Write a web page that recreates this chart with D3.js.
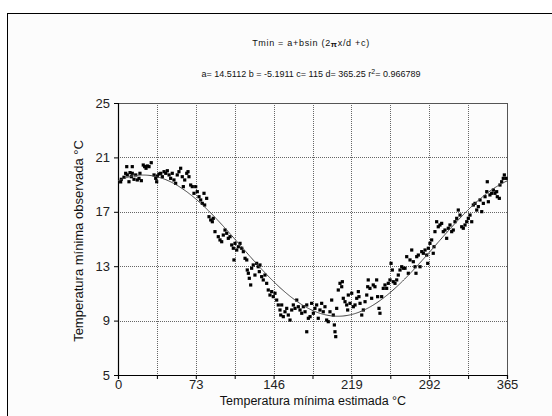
<!DOCTYPE html>
<html>
<head>
<meta charset="utf-8">
<script src="https://cdn.jsdelivr.net/npm/d3@7/dist/d3.min.js"></script>
<style>
  html, body { margin: 0; padding: 0; background: #ffffff; }
  svg { display: block; font-family: Arial, "Liberation Sans", sans-serif; }
</style>
</head>
<body>
<svg id="chart" width="552" height="416"></svg>
<script>
// Day of year for each observation
const days = [
  2.5, 3.1, 5.6, 7.2, 8.2, 8.7, 10.3, 11.3, 12.5, 13.4, 13.4, 15.0, 16.6, 18.1, 19.7, 20.6,
  21.9, 23.7, 25.0, 26.3, 27.5, 29.1, 31.2, 33.8, 35.4, 36.3, 36.9, 38.5, 40.1, 41.6, 43.2,
  44.8, 46.3, 47.9, 49.4, 50.9, 52.5, 54.1, 55.6, 57.2, 58.8, 60.3, 61.3, 62.6, 64.5, 65.7,
  66.6, 68.2, 69.7, 71.3, 72.9, 74.4, 76.0, 77.6, 79.1, 80.7, 81.3, 83.2, 85.4, 87.0, 88.5,
  89.4,
  91.0, 94.1, 95.7, 97.3, 98.8, 100.4, 102.0, 103.5, 105.1, 106.7, 108.2, 108.8, 109.8,
  111.4, 112.9, 114.5, 116.1, 117.6, 119.2, 120.8, 121.3, 122.3, 123.2, 124.5, 125.4, 126.9,
  128.5, 130.1, 131.6, 132.6, 133.2, 134.8, 136.3, 137.9, 139.5, 141.0, 142.6, 144.2, 145.7,
  147.3, 148.9, 150.4, 152.0, 152.7, 153.6, 155.1, 156.7, 158.3, 159.8, 161.4, 163.0, 164.5,
  166.1, 167.7, 169.2, 170.8, 172.4, 173.9, 175.5, 177.1, 178.6, 177.1,
  180.2, 181.7, 183.3, 184.8, 186.4, 187.9, 189.5, 191.1, 192.6, 194.2, 195.8, 197.3, 198.9,
  200.5, 202.0, 203.0, 203.6, 204.3, 205.2, 206.7, 208.3, 209.9, 210.5, 211.4, 213.0, 214.6,
  215.5, 216.1, 217.7, 219.3, 220.8, 222.4, 224.0, 225.5, 226.1, 227.1, 228.7, 230.2, 231.8,
  233.4, 234.3, 234.8, 236.4, 238.0, 239.5, 241.1, 242.7, 243.6, 244.9, 245.8, 247.4, 248.9,
  250.5, 252.1, 253.6, 255.2, 256.2, 257.4, 258.3, 259.9, 261.5, 263.0, 264.6, 266.2, 267.7,
  269.3, 270.9, 272.4, 274.0, 275.6, 277.1, 278.7, 279.6, 280.3, 281.8, 283.4, 285.0, 286.5,
  288.1, 289.7, 290.6, 291.2, 292.7, 294.3, 295.8, 296.5, 297.4, 299.0, 300.5, 302.1, 303.7,
  305.2, 306.8, 308.4, 309.9, 311.5, 313.1, 314.6, 316.2, 317.8, 319.3, 320.9, 322.5, 324.0,
  325.6, 327.2, 328.7, 330.3, 331.9, 333.4, 335.0, 336.6, 338.1, 339.7, 341.3, 342.8, 344.4,
  346.0, 346.5, 347.5, 349.0, 350.6, 352.2, 353.7, 355.3, 355.9, 357.8, 358.4, 360.0, 361.5,
  362.5, 364.1
];

// Observed minimum temperature (°C)
const observed = [
  19.2, 19.39, 19.54, 19.83, 20.32, 19.71, 19.21, 19.88, 19.58, 20.32, 19.83, 19.39, 19.71, 19.34, 19.46, 19.83,
  19.29, 20.44, 20.32, 20.2, 20.37, 20.32, 20.61, 19.71, 19.46, 19.21, 19.63, 19.78, 19.83, 19.58, 19.95,
  19.83, 20.02, 19.71, 19.46, 19.83, 19.34, 19.09, 19.71, 19.95, 20.2, 19.58, 18.85, 19.34, 19.83, 19.95,
  19.58, 18.97, 18.85, 18.36, 18.85, 18.48, 18.11, 17.87, 17.62, 18.36, 17.5, 17.99, 16.64, 16.4, 16.27,
  16.52,
  15.54, 15.17, 14.93, 14.8, 15.29, 15.66, 15.42, 15.05, 15.17, 14.56, 14.32, 13.46, 14.68,
  14.19, 14.43, 14.68, 14.32, 14.07, 13.58, 13.46, 12.72, 12.48, 12.11, 11.62, 12.85, 13.09,
  12.35, 13.21, 12.96, 12.6, 13.09, 12.23, 11.99, 12.35, 11.74, 11.25, 10.88, 11.13, 10.76,
  11.01, 10.51, 10.15, 9.78, 9.41, 10.15, 9.29, 9.65, 9.9, 9.41, 9.04, 9.78, 10.15,
  9.9, 10.51, 10.02, 9.78, 9.54, 10.02, 9.65, 10.15, 9.17, 8.18,
  9.29, 10.27, 9.54, 9.9, 10.15, 9.17, 9.78, 10.27, 9.65, 10.02, 9.04, 8.92, 9.65,
  10.51, 9.41, 8.68, 8.18, 7.82, 9.9, 11.25, 11.74, 11.49, 11.86, 10.64, 10.39, 10.15,
  9.78, 10.88, 10.27, 11.01, 10.02, 10.15, 10.64, 11.13, 10.76, 10.27, 9.41, 9.78, 10.39,
  10.88, 11.49, 11.99, 11.37, 10.64, 11.62, 11.49, 11.99, 10.76, 9.9, 9.54, 10.76, 11.37,
  11.62, 11.37, 11.74, 11.99, 13.21, 12.72, 11.86, 11.74, 11.99, 12.35, 12.72, 12.96, 12.85,
  12.85, 13.7, 12.48, 13.46, 14.19, 13.33, 12.96, 12.48, 13.7, 13.82, 12.96, 14.07, 13.95,
  14.19, 13.82, 13.21, 14.32, 14.68, 14.93, 13.95, 14.43, 15.54, 16.27, 15.9, 16.03, 16.15,
  15.54, 15.66, 15.05, 15.79, 16.03, 15.54, 15.66, 16.27, 16.52, 17.13, 16.76, 15.9, 15.79,
  16.03, 16.27, 16.52, 16.76, 16.27, 17.5, 17.62, 17.13, 17.38, 17.87, 17.01, 17.62, 18.11,
  18.48, 19.21, 17.74, 18.24, 18.36, 18.6, 18.36, 18.48, 18.11, 17.99, 18.97, 19.21, 19.46,
  19.71, 19.46
];

// Axis ticks
const xTickValues = [0, 36.5, 73, 109.5, 146, 182.5, 219, 255.5, 292, 328.5, 365];
const xTickLabels = [0, 73, 146, 219, 292, 365];
const yTickLabels = [5, 9, 13, 17, 21, 25];

// Fitted sinusoid parameters
const fitA = 14.5112;
const fitB = -5.1911;
const fitC = 115;
const fitD = 365.25;
const fitR2 = 0.966789;

const svg = d3.select("#chart");

// Outer frame
svg.append("rect")
  .attr("x", 7.5).attr("y", 13.5)
  .attr("width", 560).attr("height", 420)
  .attr("fill", "#fcfcfc")
  .attr("stroke", "#000").attr("stroke-width", 1);

const x = d3.scaleLinear().domain([0, 365]).range([118, 507]);
const y = d3.scaleLinear().domain([5, 25]).range([375, 103]);

// Gridlines (dotted)
const grid = svg.append("g").attr("stroke", "#666").attr("stroke-width", 1)
  .attr("stroke-dasharray", "1,1").attr("shape-rendering", "crispEdges");
grid.selectAll("line.v").data(xTickValues.slice(1, -1)).join("line")
  .attr("x1", d => Math.round(x(d)) + 0.5).attr("x2", d => Math.round(x(d)) + 0.5)
  .attr("y1", y(25)).attr("y2", y(5));
grid.selectAll("line.h").data(yTickLabels.slice(1, -1)).join("line")
  .attr("x1", x(0)).attr("x2", x(365))
  .attr("y1", d => Math.round(y(d)) + 0.5).attr("y2", d => Math.round(y(d)) + 0.5);

// Plot frame top and right
svg.append("path")
  .attr("d", `M${x(0)},${Math.round(y(25)) + 0.5}H${Math.round(x(365)) + 0.5}V${y(5)}`)
  .attr("fill", "none").attr("stroke", "#555").attr("stroke-width", 1)
  .attr("shape-rendering", "crispEdges");

// Axes
const xAxis = d3.axisBottom(x).tickValues(xTickValues).tickSize(4)
  .tickFormat(d => xTickLabels.includes(d) ? d : "");
const yAxis = d3.axisLeft(y).tickValues(yTickLabels).tickSize(4).tickFormat(d => d);

const gx = svg.append("g").attr("transform", `translate(0,${y(5)})`).call(xAxis);
const gy = svg.append("g").attr("transform", `translate(${x(0)},0)`).call(yAxis);
[gx, gy].forEach(g => {
  g.select(".domain").attr("stroke", "#000").attr("stroke-width", 1.2);
  g.selectAll(".tick line").attr("stroke", "#000");
  g.selectAll(".tick text").attr("fill", "#222")
    .style("font-size", "13px").style("font-family", "Arial, 'Liberation Sans', sans-serif");
});
gx.selectAll(".tick text").attr("y", 5);
gy.selectAll(".tick text").attr("dx", "-1px");

// Observations
const pts = days.map((d, i) => ({ d, t: observed[i] }));
svg.append("g").selectAll("rect").data(pts).join("rect")
  .attr("x", p => x(p.d) - 1.6).attr("y", p => y(p.t) - 1.6)
  .attr("width", 3.2).attr("height", 3.2)
  .attr("fill", "#000");

// Fitted curve
const curveDays = d3.range(0, 366, 1);
const fitted = curveDays.map(dd => ({ d: dd, t: fitA + fitB * Math.sin(2 * Math.PI * (dd - fitC) / fitD) }));
svg.append("path").datum(fitted)
  .attr("fill", "none").attr("stroke", "#444").attr("stroke-width", 1)
  .attr("d", d3.line().x(p => x(p.d)).y(p => y(p.t)));

// Equation and coefficients
const eq = svg.append("text").attr("x", 311).attr("y", 46)
  .attr("text-anchor", "middle").style("font-size", "9px")
  .style("letter-spacing", "0.7px").attr("fill", "#111");
eq.append("tspan").text("Tmin = a+bsin (2");
eq.append("tspan").text("π").style("font-size", "8px").style("font-weight", "bold").attr("dy", 1);
eq.append("tspan").text("x/d +c)").attr("dy", -1);

const coef = svg.append("text").attr("x", 311).attr("y", 77)
  .attr("text-anchor", "middle").style("font-size", "9px").attr("fill", "#111");
coef.append("tspan").text(`a= ${fitA} b = ${fitB}  c= ${fitC}  d= ${fitD}  r`);
coef.append("tspan").text("2").style("font-size", "7px").attr("dy", -3);
coef.append("tspan").text(`= ${fitR2}`).attr("dy", 3);

// Axis titles
svg.append("text").attr("x", 313).attr("y", 405)
  .attr("text-anchor", "middle").style("font-size", "12.5px").attr("fill", "#111")
  .text("Temperatura mínima estimada °C");
svg.append("text").attr("transform", "translate(83,241) rotate(-90)")
  .attr("text-anchor", "middle").style("font-size", "13px").attr("fill", "#111")
  .text("Temperatura mínima observada °C");
</script>
</body>
</html>
